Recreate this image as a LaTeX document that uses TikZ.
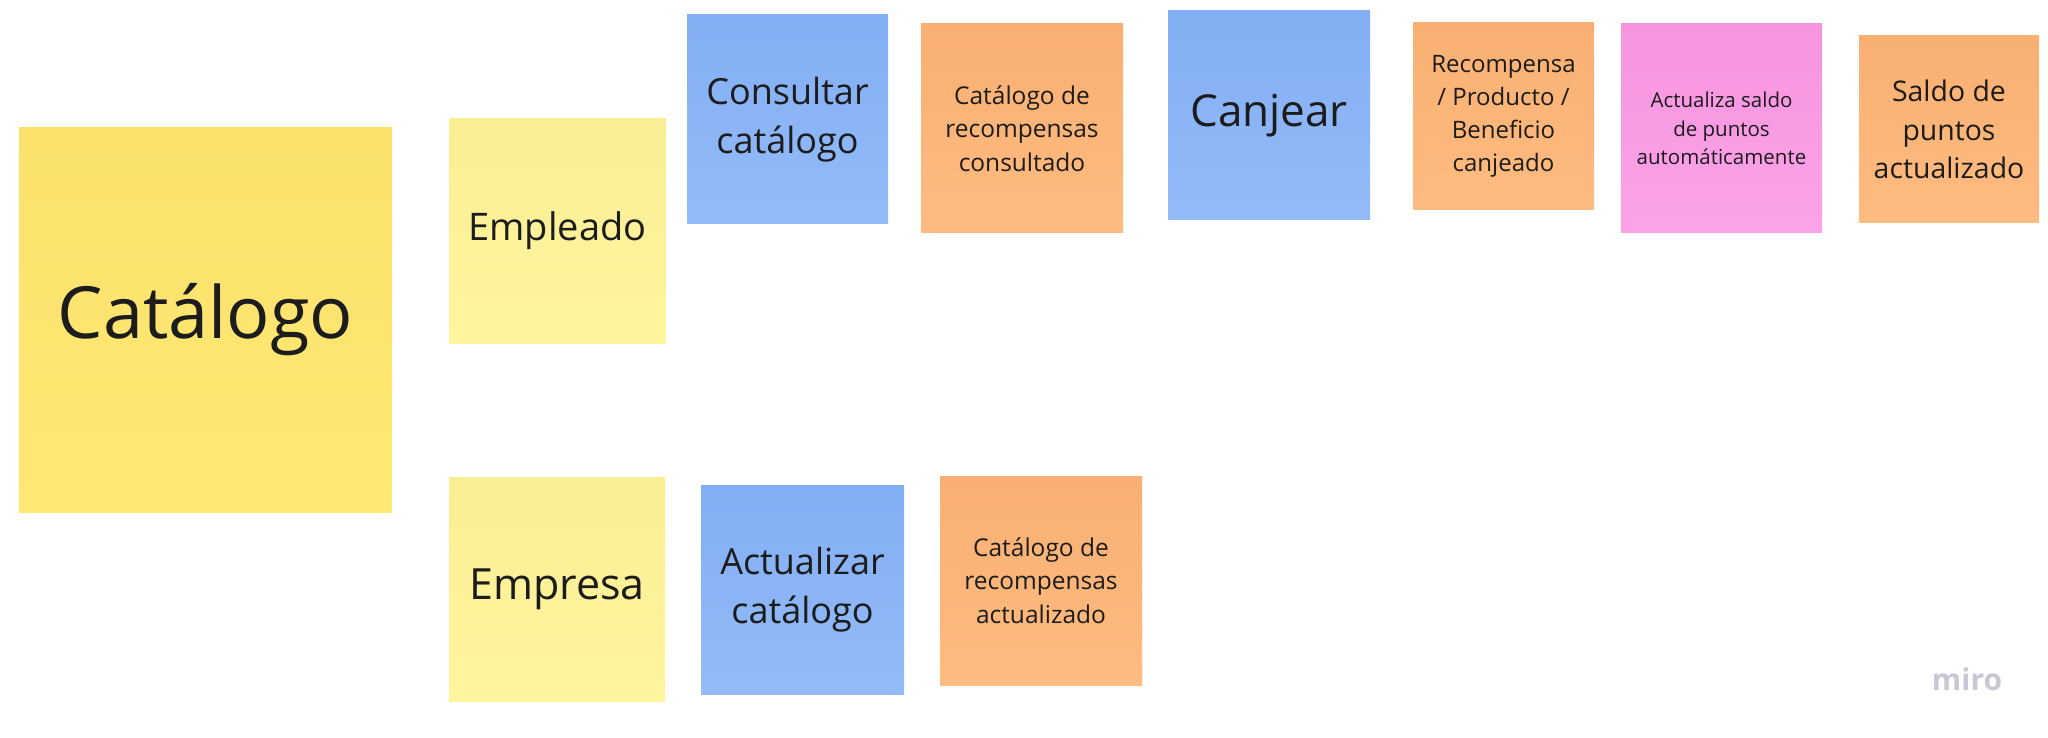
\documentclass[tikz,border=0pt]{standalone}
\usepackage{fontspec}
\setmainfont{Open Sans}
\usetikzlibrary{backgrounds}
\definecolor{catTop}{HTML}{FBE16C}
\definecolor{catBot}{HTML}{FFE874}
\definecolor{lyTop}{HTML}{F9EE93}
\definecolor{lyBot}{HTML}{FFF59F}
\definecolor{blTop}{HTML}{82AEF3}
\definecolor{blBot}{HTML}{93BBF9}
\definecolor{orTop}{HTML}{F9AF72}
\definecolor{orBot}{HTML}{FFBB80}
\definecolor{pkTop}{HTML}{F694E0}
\definecolor{pkBot}{HTML}{FCA3E7}
\definecolor{inkc}{HTML}{1C1C1C}
\definecolor{miroc}{HTML}{C8C8D4}
\tikzset{
  note/.style={rectangle, inner sep=0pt, align=center, text=inkc},
  catnote/.style={note, top color=catTop, bottom color=catBot},
  lynote/.style={note, top color=lyTop, bottom color=lyBot},
  blnote/.style={note, top color=blTop, bottom color=blBot},
  ornote/.style={note, top color=orTop, bottom color=orBot},
  pknote/.style={note, top color=pkTop, bottom color=pkBot},
}
\newcommand{\notesh}[1]{%
  \begin{scope}[on background layer]
    \foreach \i in {1,...,6}{
      \fill[black, opacity=0.03, rounded corners=6pt]
        ([xshift={1pt+\i*0.6pt}, yshift=16pt]#1.south west) rectangle
        ([xshift={1pt-\i*0.4pt}, yshift={-1.9pt*\i}]#1.south east);
    }
  \end{scope}}
\begin{document}
\begin{tikzpicture}[x=1pt, y=-1pt]
\useasboundingbox[fill=white] (0,0) rectangle (2048,738);
\node[catnote, minimum width=373pt, minimum height=384pt, font={\fontsize{72}{98}\selectfont}] (cat) at (205.5,320) {Catálogo};
\node[lynote, minimum width=217pt, minimum height=224pt, font={\fontsize{38}{52}\selectfont}] (emp) at (557.5,231) {\raisebox{-3pt}{Empleado}};
\node[blnote, minimum width=201pt, minimum height=209pt, font={\fontsize{36}{49}\selectfont}] (cons) at (787.5,119.5) {\raisebox{-3pt}{\begin{tabular}{@{}c@{}}Consultar\\catálogo\end{tabular}}};
\node[ornote, minimum width=202pt, minimum height=209pt, font={\fontsize{24.5}{33.5}\selectfont}] (catcons) at (1022,128.5) {Catálogo de\\recompensas\\consultado};
\node[blnote, minimum width=202pt, minimum height=209pt, font={\fontsize{44}{60}\selectfont}] (canj) at (1269,115.5) {\raisebox{-2pt}{Canjear}};
\node[ornote, minimum width=181pt, minimum height=187pt, font={\fontsize{24}{33}\selectfont}] (recomp) at (1503.5,116.5) {Recompensa\\/ Producto /\\Beneficio\\canjeado};
\node[pknote, minimum width=201pt, minimum height=209pt, font={\fontsize{20.5}{28.5}\selectfont}] (actsal) at (1721.5,128.5) {Actualiza saldo\\de puntos\\automáticamente};
\node[ornote, minimum width=180pt, minimum height=187pt, font={\fontsize{28.4}{38.8}\selectfont}] (saldo) at (1949,129.5) {Saldo de\\puntos\\actualizado};
\node[lynote, minimum width=216pt, minimum height=224pt, font={\fontsize{43}{58}\selectfont}] (empr) at (557,589) {\raisebox{-2pt}{Empresa}};
\node[blnote, minimum width=203pt, minimum height=209pt, font={\fontsize{36}{49}\selectfont}] (actcat) at (802.5,589.5) {Actualizar\\catálogo};
\node[ornote, minimum width=202pt, minimum height=209pt, font={\fontsize{24.5}{33.5}\selectfont}] (catact) at (1041,580.5) {Catálogo de\\recompensas\\actualizado};
\foreach \n in {cat,emp,cons,catcons,canj,recomp,actsal,saldo,empr,actcat,catact}{\notesh{\n}}
\node[text=miroc, font={\bfseries\fontsize{30}{36}\selectfont}, inner sep=0pt, anchor=base] (miro) at (1967,690) {miro};
\end{tikzpicture}
\end{document}
